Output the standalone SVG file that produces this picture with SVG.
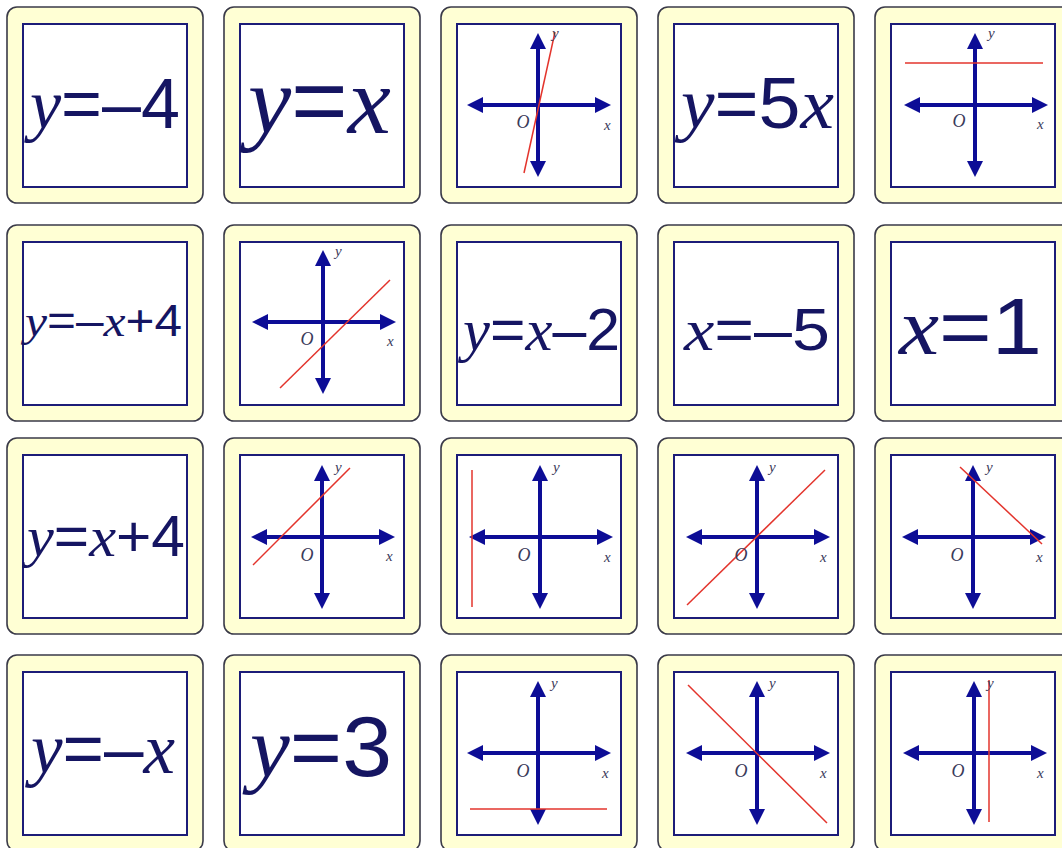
<svg xmlns="http://www.w3.org/2000/svg" xmlns:xlink="http://www.w3.org/1999/xlink" width="1062" height="848" viewBox="0 0 1062 848">
<style>
.o{fill:#ffffd4;stroke:#3a3a48;stroke-width:1.6}
.in{fill:#ffffff;stroke:#1c1c78;stroke-width:2}
.ax{stroke:#0d0d96;stroke-width:4;fill:none;marker-start:url(#ah);marker-end:url(#ah)}
.rl{stroke:#e3342c;stroke-width:1.5;fill:none}
.eq{font-family:"Liberation Sans",Arial,sans-serif;fill:#151562}
.v{font-family:"Liberation Serif","Times New Roman",serif;font-style:italic}
.lb{font-family:"Liberation Serif","Times New Roman",serif;font-style:italic;fill:#3a3a5a;font-size:15px}
.lo{font-family:"Liberation Serif","Times New Roman",serif;font-style:italic;fill:#3a3a5a;font-size:18px;text-anchor:middle}
</style>
<defs>
<marker id="ah" viewBox="0 0 16 16" refX="8" refY="8" markerWidth="16" markerHeight="16" markerUnits="userSpaceOnUse" orient="auto-start-reverse">
<path d="M0,0 L16,8 L0,16 Z" fill="#0d0d96"/>
</marker>
<g id="axes">
<line class="ax" x1="-63" y1="0" x2="65" y2="0"/>
<line class="ax" x1="0" y1="-64" x2="0" y2="64"/>
</g>
</defs>
<rect width="1062" height="848" fill="#ffffff"/>
<g id="connectors"/>

<!-- Row 1 -->
<g id="r1c1">
<rect class="o" x="7" y="7" width="196" height="196" rx="10"/>
<rect class="in" x="23" y="24" width="164" height="163"/>
<text class="eq" x="30" y="128" font-size="70" textLength="150" lengthAdjust="spacingAndGlyphs"><tspan class="v">y</tspan>=–4</text>
</g>
<g id="r1c2">
<rect class="o" x="224" y="7" width="196" height="196" rx="10"/>
<rect class="in" x="240" y="24" width="164" height="163"/>
<text class="eq" x="248" y="133" font-size="95" textLength="143" lengthAdjust="spacingAndGlyphs"><tspan class="v">y</tspan>=<tspan class="v">x</tspan></text>
</g>
<g id="r1c3">
<rect class="o" x="441" y="7" width="196" height="196" rx="10"/>
<rect class="in" x="457" y="24" width="164" height="163"/>
<use xlink:href="#axes" x="538" y="105"/>
<line class="rl" x1="524" y1="173" x2="555" y2="32"/>
<text class="lb" x="552" y="38">y</text>
<text class="lo" x="523" y="128">O</text>
<text class="lb" x="604" y="130">x</text>
</g>
<g id="r1c4">
<rect class="o" x="658" y="7" width="196" height="196" rx="10"/>
<rect class="in" x="674" y="24" width="164" height="163"/>
<text class="eq" x="681" y="128" font-size="72" textLength="153" lengthAdjust="spacingAndGlyphs"><tspan class="v">y</tspan>=5<tspan class="v">x</tspan></text>
</g>
<g id="r1c5">
<rect class="o" x="875" y="7" width="196" height="196" rx="10"/>
<rect class="in" x="891" y="24" width="164" height="163"/>
<use xlink:href="#axes" x="975" y="105"/>
<line class="rl" x1="905" y1="63" x2="1043" y2="63"/>
<text class="lb" x="988" y="38">y</text>
<text class="lo" x="959" y="127">O</text>
<text class="lb" x="1037" y="129">x</text>
</g>

<!-- Row 2 -->
<g id="r2c1">
<rect class="o" x="7" y="225" width="196" height="196" rx="10"/>
<rect class="in" x="23" y="242" width="164" height="163"/>
<text class="eq" x="25" y="336" font-size="44" textLength="157" lengthAdjust="spacingAndGlyphs"><tspan class="v">y</tspan>=–<tspan class="v">x</tspan>+4</text>
</g>
<g id="r2c2">
<rect class="o" x="224" y="225" width="196" height="196" rx="10"/>
<rect class="in" x="240" y="242" width="164" height="163"/>
<use xlink:href="#axes" x="323" y="322"/>
<line class="rl" x1="280" y1="388" x2="390" y2="280"/>
<text class="lb" x="335" y="256">y</text>
<text class="lo" x="307" y="345">O</text>
<text class="lb" x="387" y="346">x</text>
</g>
<g id="r2c3">
<rect class="o" x="441" y="225" width="196" height="196" rx="10"/>
<rect class="in" x="457" y="242" width="164" height="163"/>
<text class="eq" x="463" y="350" font-size="60" textLength="157" lengthAdjust="spacingAndGlyphs"><tspan class="v">y</tspan>=<tspan class="v">x</tspan>–2</text>
</g>
<g id="r2c4">
<rect class="o" x="658" y="225" width="196" height="196" rx="10"/>
<rect class="in" x="674" y="242" width="164" height="163"/>
<text class="eq" x="684" y="350" font-size="60" textLength="146" lengthAdjust="spacingAndGlyphs"><tspan class="v">x</tspan>=–5</text>
</g>
<g id="r2c5">
<rect class="o" x="875" y="225" width="196" height="196" rx="10"/>
<rect class="in" x="891" y="242" width="164" height="163"/>
<text class="eq" x="899" y="354" font-size="80" textLength="143" lengthAdjust="spacingAndGlyphs"><tspan class="v">x</tspan>=1</text>
</g>

<!-- Row 3 -->
<g id="r3c1">
<rect class="o" x="7" y="438" width="196" height="196" rx="10"/>
<rect class="in" x="23" y="455" width="164" height="163"/>
<text class="eq" x="27" y="556" font-size="58" textLength="158" lengthAdjust="spacingAndGlyphs"><tspan class="v">y</tspan>=<tspan class="v">x</tspan>+4</text>
</g>
<g id="r3c2">
<rect class="o" x="224" y="438" width="196" height="196" rx="10"/>
<rect class="in" x="240" y="455" width="164" height="163"/>
<use xlink:href="#axes" x="322" y="537"/>
<line class="rl" x1="253" y1="565" x2="350" y2="468"/>
<text class="lb" x="335" y="472">y</text>
<text class="lo" x="307" y="561">O</text>
<text class="lb" x="386" y="561">x</text>
</g>
<g id="r3c3">
<rect class="o" x="441" y="438" width="196" height="196" rx="10"/>
<rect class="in" x="457" y="455" width="164" height="163"/>
<use xlink:href="#axes" x="540" y="537"/>
<line class="rl" x1="472" y1="470" x2="472" y2="607"/>
<text class="lb" x="553" y="472">y</text>
<text class="lo" x="524" y="561">O</text>
<text class="lb" x="604" y="562">x</text>
</g>
<g id="r3c4">
<rect class="o" x="658" y="438" width="196" height="196" rx="10"/>
<rect class="in" x="674" y="455" width="164" height="163"/>
<use xlink:href="#axes" x="757" y="537"/>
<line class="rl" x1="687" y1="605" x2="825" y2="470"/>
<text class="lb" x="769" y="472">y</text>
<text class="lo" x="741" y="561">O</text>
<text class="lb" x="820" y="562">x</text>
</g>
<g id="r3c5">
<rect class="o" x="875" y="438" width="196" height="196" rx="10"/>
<rect class="in" x="891" y="455" width="164" height="163"/>
<use xlink:href="#axes" x="973" y="537"/>
<line class="rl" x1="960" y1="467" x2="1042" y2="544"/>
<text class="lb" x="986" y="472">y</text>
<text class="lo" x="957" y="561">O</text>
<text class="lb" x="1036" y="562">x</text>
</g>

<!-- Row 4 -->
<g id="r4c1">
<rect class="o" x="7" y="655" width="196" height="196" rx="10"/>
<rect class="in" x="23" y="672" width="164" height="163"/>
<text class="eq" x="31" y="773" font-size="72" textLength="144" lengthAdjust="spacingAndGlyphs"><tspan class="v">y</tspan>=–<tspan class="v">x</tspan></text>
</g>
<g id="r4c2">
<rect class="o" x="224" y="655" width="196" height="196" rx="10"/>
<rect class="in" x="240" y="672" width="164" height="163"/>
<text class="eq" x="250" y="776" font-size="86" textLength="142" lengthAdjust="spacingAndGlyphs"><tspan class="v">y</tspan>=3</text>
</g>
<g id="r4c3">
<rect class="o" x="441" y="655" width="196" height="196" rx="10"/>
<rect class="in" x="457" y="672" width="164" height="163"/>
<use xlink:href="#axes" x="538" y="753"/>
<line class="rl" x1="470" y1="809" x2="607" y2="809"/>
<text class="lb" x="551" y="688">y</text>
<text class="lo" x="523" y="777">O</text>
<text class="lb" x="602" y="778">x</text>
</g>
<g id="r4c4">
<rect class="o" x="658" y="655" width="196" height="196" rx="10"/>
<rect class="in" x="674" y="672" width="164" height="163"/>
<use xlink:href="#axes" x="757" y="753"/>
<line class="rl" x1="688" y1="685" x2="827" y2="823"/>
<text class="lb" x="769" y="688">y</text>
<text class="lo" x="741" y="777">O</text>
<text class="lb" x="820" y="778">x</text>
</g>
<g id="r4c5">
<rect class="o" x="875" y="655" width="196" height="196" rx="10"/>
<rect class="in" x="891" y="672" width="164" height="163"/>
<use xlink:href="#axes" x="974" y="753"/>
<line class="rl" x1="989" y1="680" x2="989" y2="822"/>
<text class="lb" x="987" y="688">y</text>
<text class="lo" x="958" y="777">O</text>
<text class="lb" x="1037" y="778">x</text>
</g>
</svg>
